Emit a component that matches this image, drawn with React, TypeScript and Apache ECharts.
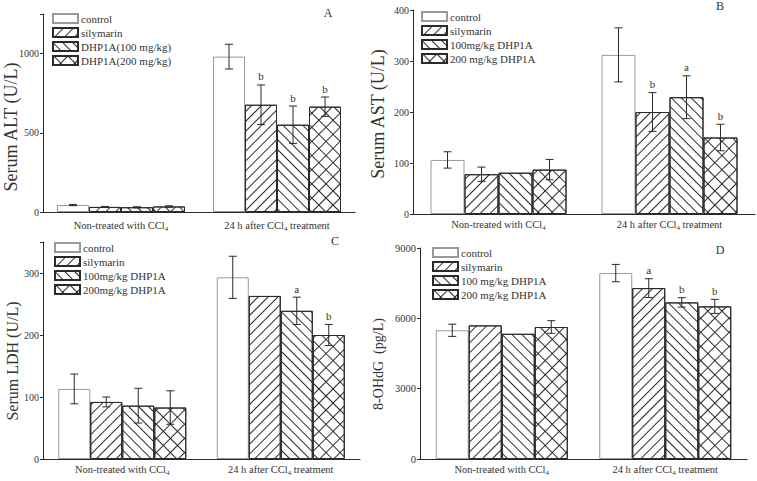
import React, { useEffect, useRef } from 'react';
import * as echarts from 'echarts';

const categories = ['Non-treated with CCl4', '24 h after CCl4 treatment'];

// Panel A – ALT
const altNames = ['control', 'silymarin', 'DHP1A(100 mg/kg)', 'DHP1A(200 mg/kg)'];
const altControl = [44, 981];
const altSilymarin = [32, 677];
const altDhp100 = [30, 551];
const altDhp200 = [35, 665];
const altErrors = [[4, 78], [3, 125], [3, 118], [4, 61]];
const altLetters = [['', ''], ['', 'b'], ['', 'b'], ['', 'b']];

// Panel B – AST
const astNames = ['control', 'silymarin', '100mg/kg DHP1A', '200 mg/kg DHP1A'];
const astControl = [106, 312];
const astSilymarin = [78, 200];
const astDhp100 = [81, 229];
const astDhp200 = [87, 150];
const astErrors = [[16, 53], [14, 38], [0, 42], [20, 26]];
const astLetters = [['', ''], ['', 'b'], ['', 'a'], ['', 'b']];

// Panel C – LDH
const ldhNames = ['control', 'silymarin', '100mg/kg DHP1A', '200mg/kg DHP1A'];
const ldhControl = [113, 293];
const ldhSilymarin = [92, 263];
const ldhDhp100 = [86, 239];
const ldhDhp200 = [83, 200];
const ldhErrors = [[24, 34], [8, 0], [28, 22], [27, 17]];
const ldhLetters = [['', ''], ['', ''], ['', 'a'], ['', 'b']];

// Panel D – 8-OHdG
const ohdgNames = ['control', 'silymarin', '100 mg/kg DHP1A', '200 mg/kg DHP1A'];
const ohdgControl = [5490, 7930];
const ohdgSilymarin = [5700, 7290];
const ohdgDhp100 = [5340, 6680];
const ohdgDhp200 = [5630, 6510];
const ohdgErrors = [[260, 370], [0, 400], [0, 200], [270, 300]];
const ohdgLetters = [['', ''], ['', 'a'], ['', 'b'], ['', 'b']];

const FONT = '"Liberation Serif", "Times New Roman", serif';
const INK = '#2a2a2a';

const decals: any[] = [
  null,
  { symbol: 'rect', symbolSize: 1, color: INK, backgroundColor: '#fff', dashArrayX: [1, 0], dashArrayY: [1, 6], rotation: -Math.PI / 4 },
  { symbol: 'rect', symbolSize: 1, color: INK, backgroundColor: '#fff', dashArrayX: [1, 0], dashArrayY: [1, 6], rotation: Math.PI / 4 },
  {
    symbol: 'rect', symbolSize: 1, color: INK, backgroundColor: '#fff',
    dashArrayX: [[10, 0], [1, 9], [1, 9], [1, 9], [1, 9], [1, 9], [1, 9], [1, 9], [1, 9], [1, 9]],
    dashArrayY: [1, 0], rotation: Math.PI / 4,
  },
];

function barSeries(idx: number, names: string[], values: number[][], bw: number) {
  return values.map((vals, s) => ({
    type: 'bar',
    name: names[s],
    xAxisIndex: idx,
    yAxisIndex: idx,
    data: vals,
    barWidth: bw,
    barGap: '0%',
    itemStyle: {
      color: '#fff',
      borderColor: s === 0 ? '#999' : INK,
      borderWidth: 1,
      decal: decals[s] || undefined,
    },
  }));
}

function errorSeries(idx: number, values: number[][], errs: number[][], letters: string[][], bw: number) {
  const data: number[][] = [];
  const lett: string[] = [];
  values.forEach((arr, s) =>
    arr.forEach((v, c) => {
      data.push([c, s, v, errs[s][c]]);
      lett.push(letters[s][c]);
    })
  );
  return {
    type: 'custom',
    xAxisIndex: idx,
    yAxisIndex: idx,
    z: 10,
    silent: true,
    data,
    renderItem: (params: any, api: any) => {
      const c = api.value(0);
      const s = api.value(1);
      const v = api.value(2);
      const e = api.value(3);
      const base = api.coord([c, v]);
      const x = base[0] + (s - 1.5) * bw;
      const yT = api.coord([c, v + e])[1];
      const yB = api.coord([c, v - e])[1];
      const style = { stroke: INK, lineWidth: 1 };
      const children: any[] = [];
      if (e > 0) {
        children.push({ type: 'line', shape: { x1: x, y1: yT, x2: x, y2: yB }, style });
        children.push({ type: 'line', shape: { x1: x - 4, y1: yT, x2: x + 4, y2: yT }, style });
        children.push({ type: 'line', shape: { x1: x - 4, y1: yB, x2: x + 4, y2: yB }, style });
      }
      const t = lett[params.dataIndex];
      if (t) {
        children.push({
          type: 'text',
          style: { text: t, x, y: yT - 3, align: 'center', verticalAlign: 'bottom', font: `11px ${FONT}`, fill: '#333' },
        });
      }
      return { type: 'group', children };
    },
  };
}

function xAxis(idx: number, margin: number) {
  return {
    type: 'category',
    gridIndex: idx,
    data: categories,
    axisLine: { lineStyle: { color: INK, width: 1 } },
    axisTick: { alignWithLabel: true, length: 4, lineStyle: { color: INK } },
    axisLabel: {
      interval: 0,
      hideOverlap: false,
      margin,
      color: '#333',
      fontFamily: FONT,
      fontSize: 10.5,
      formatter: (v: string) => v.replace('CCl4', 'CCl{sub|4}'),
      rich: { sub: { fontSize: 7, fontFamily: FONT, color: '#333', padding: [6, 0, 0, 0] } },
    },
  };
}

function yAxis(idx: number, max: number, interval: number, fontSize: number) {
  return {
    type: 'value',
    gridIndex: idx,
    min: 0,
    max,
    interval,
    splitLine: { show: false },
    axisLine: { show: true, lineStyle: { color: INK, width: 1 } },
    axisTick: { show: true, length: 3, lineStyle: { color: INK } },
    axisLabel: {
      margin: 4,
      color: '#333',
      fontFamily: FONT,
      fontSize,
      formatter: (v: number) => (v % interval === 0 ? String(v) : ''),
    },
  };
}

function legend(names: string[], left: number, top: number) {
  return {
    data: names,
    left,
    top,
    orient: 'vertical',
    icon: 'rect',
    itemWidth: 25,
    itemHeight: 9,
    itemGap: 3,
    selectedMode: false,
    textStyle: { fontFamily: FONT, fontSize: 11, color: '#333', padding: [0, 0, 0, -2] },
  };
}

function axisName(text: string, x: number, y: number, size: number) {
  return {
    type: 'text',
    x,
    y,
    rotation: Math.PI / 2,
    style: { text, font: `${size}px ${FONT}`, fill: '#333', align: 'center', verticalAlign: 'middle' },
  };
}

function panelLabel(text: string, x: number, y: number) {
  return {
    type: 'text',
    x,
    y,
    style: { text, font: `12px ${FONT}`, fill: '#333', align: 'center', verticalAlign: 'middle' },
  };
}

export default function App() {
  const ref = useRef<HTMLDivElement>(null);
  useEffect(() => {
    document.body.style.margin = '0';
    if (!ref.current) return;
    const chart = echarts.init(ref.current, null, { renderer: 'svg' });
    const altVals = [altControl, altSilymarin, altDhp100, altDhp200];
    const astVals = [astControl, astSilymarin, astDhp100, astDhp200];
    const ldhVals = [ldhControl, ldhSilymarin, ldhDhp100, ldhDhp200];
    const ohdgVals = [ohdgControl, ohdgSilymarin, ohdgDhp100, ohdgDhp200];
    const bw = [32, 34, 32, 33];
    chart.setOption({
      animation: false,
      backgroundColor: '#fff',
      textStyle: { fontFamily: FONT },
      grid: [
        { left: 43, top: 14, width: 312, height: 198 },
        { left: 413, top: 10, width: 342, height: 204 },
        { left: 43, top: 242, width: 317, height: 217 },
        { left: 420, top: 248, width: 327, height: 211 },
      ],
      xAxis: [xAxis(0, 7), xAxis(1, 4), xAxis(2, 4), xAxis(3, 4)],
      yAxis: [yAxis(0, 1250, 500, 10), yAxis(1, 400, 100, 10), yAxis(2, 350, 100, 10), yAxis(3, 9000, 3000, 10.5)],
      legend: [
        legend(altNames, 47, 8),
        legend(astNames, 416, 6),
        legend(ldhNames, 49, 237),
        legend(ohdgNames, 427, 242),
      ],
      series: [
        ...barSeries(0, altNames, altVals, bw[0]),
        ...barSeries(1, astNames, astVals, bw[1]),
        ...barSeries(2, ldhNames, ldhVals, bw[2]),
        ...barSeries(3, ohdgNames, ohdgVals, bw[3]),
        errorSeries(0, altVals, altErrors, altLetters, bw[0]),
        errorSeries(1, astVals, astErrors, astLetters, bw[1]),
        errorSeries(2, ldhVals, ldhErrors, ldhLetters, bw[2]),
        errorSeries(3, ohdgVals, ohdgErrors, ohdgLetters, bw[3]),
      ],
      graphic: [
        axisName('Serum ALT (U/L)', 11, 127, 18),
        axisName('Serum AST (U/L)', 378, 114, 18),
        axisName('Serum LDH (U/L)', 12, 361, 16),
        axisName('8-OHdG  (pg/L)', 378, 364, 14),
        panelLabel('A', 328, 13),
        panelLabel('B', 720, 6),
        panelLabel('C', 335, 241),
        panelLabel('D', 720, 250),
      ],
    });
    return () => chart.dispose();
  }, []);
  return <div ref={ref} style={{ width: 757, height: 481 }} />;
}
